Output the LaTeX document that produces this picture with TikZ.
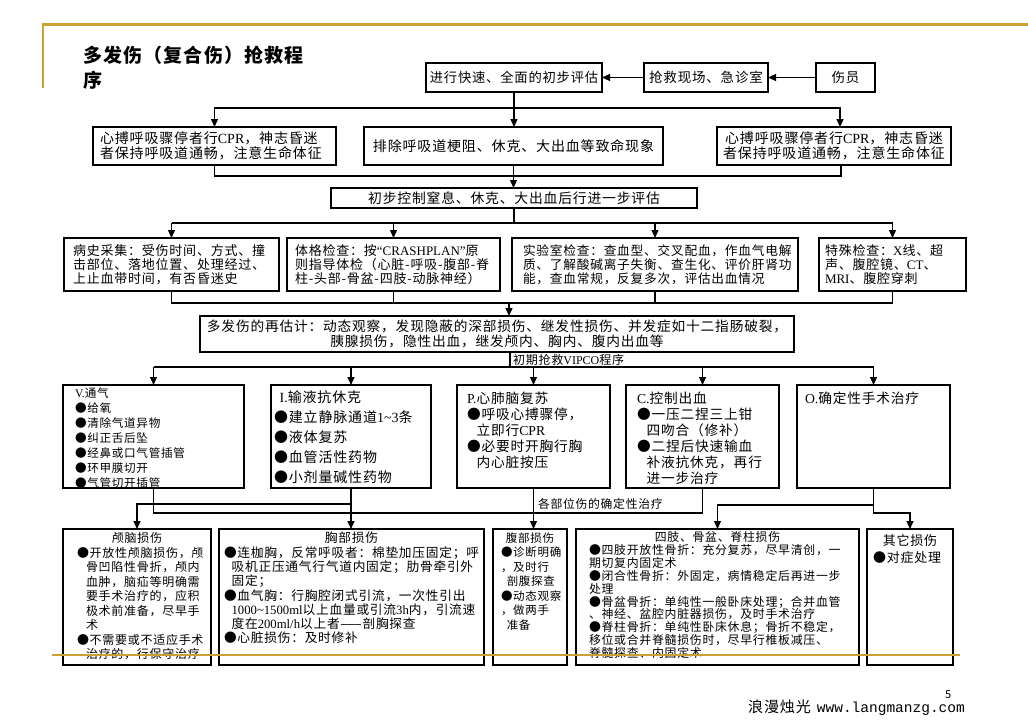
\documentclass[tikz,border=0pt]{standalone}
\usepackage{fontspec}
\setmainfont{Noto Sans CJK SC}[LetterSpace=6]
\setmonofont{Liberation Mono}
\newfontfamily\lat{Liberation Serif}
\usetikzlibrary{arrows.meta,calc}
\definecolor{gold}{RGB}{204,160,50}
\newcommand\fs[2]{\fontsize{#1pt}{#2pt}\selectfont\lineskiplimit=-100pt\relax}
\newcommand\lpad[1]{\raggedright\leftskip=#1pt\relax}
\newcommand\ind[1]{\hspace*{#1em}}
\newcommand\bx[7]{\node[box] (#1) at (#2,#3) {\parbox[c][\dimexpr#5pt-4pt\relax][#6]{\dimexpr#4pt-4pt\relax}{#7}};}
\begin{document}
\begin{tikzpicture}[x=1pt,y=-1pt,
  box/.style={draw,line width=1.2pt,inner sep=2pt,outer sep=0pt,anchor=north west},
  ln/.style={line width=1.2pt},
  arr/.style={line width=1.2pt,-{Triangle[length=8pt,width=7pt]}},
  lbl/.style={inner sep=0pt,anchor=base west},
  goldline/.style={draw=gold,line width=2.2pt}]
\fill[white] (0,0) rectangle (1028,728);
\useasboundingbox (0,0) rectangle (1028,728);

% title
\node[lbl] (title) at (83,62.2) {\fs{19}{25}\bfseries 多发伤（复合伤）抢救程};
\node[lbl] (title2) at (83,87.2) {\fs{19}{25}\bfseries 序};

% row 1
\bx{assess}{426}{63}{176}{29}{c}{\centering\fs{13.3}{15}进行快速、全面的初步评估}
\bx{scene}{644}{63}{124}{29}{c}{\centering\fs{13.5}{15}抢救现场、急诊室}
\bx{injured}{816}{63}{59}{29}{c}{\centering\fs{13.5}{15}伤员}

% row 2
\bx{r2l}{93}{127}{243}{38}{c}{\lpad{5}\fs{14}{15}心搏呼吸骤停者行{\lat CPR}，神志昏迷\par 者保持呼吸道通畅，注意生命体征}
\bx{r2m}{364}{127}{299}{38}{c}{\centering\fs{14}{15}排除呼吸道梗阻、休克、大出血等致命现象}
\bx{r2r}{717}{127}{234}{38}{c}{\centering\fs{14}{15}心搏呼吸骤停者行{\lat CPR}，神志昏迷\par 者保持呼吸道通畅，注意生命体征}

\bx{ctl}{331}{188}{366}{20}{c}{\centering\fs{13.8}{15}初步控制窒息、休克、大出血后行进一步评估}

% row 3
\bx{r3a}{64}{238}{215}{53}{c}{\lpad{7}\fs{13}{14}病史采集：受伤时间、方式、撞\par 击部位、落地位置、处理经过、\par 上止血带时间，有否昏迷史}
\bx{r3b}{287}{238}{213}{53}{c}{\lpad{6}\fs{13}{14}体格检查：按{\lat “CRASHPLAN”}原\par 则指导体检（心脏-呼吸-腹部-脊\par 柱-头部-骨盆-四肢-动脉神经）}
\bx{r3c}{512}{238}{286}{53}{c}{\lpad{9}\fs{12.7}{14}实验室检查：查血型、交叉配血，作血气电解\par 质、了解酸碱离子失衡、查生化、评价肝肾功\par 能，查血常规，反复多次，评估出血情况}
\bx{r3d}{819}{238}{147}{53}{c}{\lpad{4}\fs{13}{14}特殊检查：{\lat X}线、超\par 声、腹腔镜、{\lat CT}、\par {\lat MRI}、腹腔穿刺}

% re-estimation
\bx{re}{200}{316}{594}{36}{c}{\centering\fs{13.7}{15}多发伤的再估计：动态观察，发现隐蔽的深部损伤、继发性损伤、并发症如十二指肠破裂，\par 胰腺损伤，隐性出血，继发颅内、胸内、腹内出血等}
\node[lbl] (vipco) at (513,364.5) {\fs{12}{12}初期抢救{\lat VIPCO}程序};

% VIPCO row
\bx{nV}{63}{385}{181}{103}{t}{\lpad{10}\fs{11.6}{15}\vspace*{10.4pt}\smash{{\lat V.}通气}\par ●给氧\par ●清除气道异物\par ●纠正舌后坠\par ●经鼻或口气管插管\par ●环甲膜切开\par ●气管切开插管}
\bx{nI}{271}{385}{160}{103}{t}{\lpad{1}\fs{14}{20}\vspace*{15.3pt}\smash{\ind{0.4}{\lat I.}输液抗休克}\par ●建立静脉通道{\lat 1\textasciitilde3}条\par ●液体复苏\par ●血管活性药物\par ●小剂量碱性药物}
\bx{nP}{457}{385}{153}{103}{t}{\lpad{8}\fs{13.7}{16}\vspace*{16.2pt}\smash{{\lat P.}心肺脑复苏}\par ●呼吸心搏骤停，\par\ind{0.7}立即行{\lat CPR}\par ●必要时开胸行胸\par\ind{0.7}内心脏按压}
\bx{nC}{626}{385}{153}{103}{t}{\lpad{9}\fs{13.7}{16}\vspace*{16.2pt}\smash{{\lat C.}控制出血}\par ●一压二捏三上钳\par\ind{0.7}四吻合（修补）\par ●二捏后快速输血\par\ind{0.7}补液抗休克，再行\par\ind{0.7}进一步治疗}
\bx{nO}{797}{385}{153}{103}{t}{\lpad{6}\fs{13.7}{16}\vspace*{16.2pt}\smash{{\lat O.}确定性手术治疗}}

\node[lbl] (defin) at (538,508.5) {\fs{11.8}{12}各部位伤的确定性治疗};

% bottom row
\bx{skull}{63}{529}{148}{136}{t}{\fs{12}{14.5}\vspace*{11.6pt}{\centering\smash{颅脑损伤}\par}\lpad{12}●开放性颅脑损伤，颅\par\ind{0.75}骨凹陷性骨折，颅内\par\ind{0.75}血肿，脑疝等明确需\par\ind{0.75}要手术治疗的，应积\par\ind{0.75}极术前准备，尽早手\par\ind{0.75}术\par ●不需要或不适应手术\par\ind{0.75}治疗的，行保守治疗}
\bx{chest}{219}{529}{265}{136}{t}{\fs{12.7}{14.3}\vspace*{11.8pt}{\centering\smash{胸部损伤}\par}\lpad{3}●连枷胸，反常呼吸者：棉垫加压固定；呼\par\ind{0.6}吸机正压通气行气道内固定；肋骨牵引外\par\ind{0.6}固定；\par ●血气胸：行胸腔闭式引流，一次性引出\par\ind{0.6}{\lat 1000\textasciitilde1500ml}以上血量或引流{\lat 3h}内，引流速\par\ind{0.6}度在{\lat 200ml/h}以上者——剖胸探查\par ●心脏损伤：及时修补}
\bx{abd}{493}{529}{74}{136}{t}{\fs{11.5}{14.5}\vspace*{11.4pt}{\centering\smash{腹部损伤}\par}\lpad{6}●诊断明确\par ，及时行\par\ind{0.5}剖腹探查\par ●动态观察\par ，做两手\par\ind{0.5}准备}
\bx{limb}{576}{529}{283}{136}{t}{\fs{11.9}{12.9}\vspace*{10.5pt}{\centering\smash{四肢、骨盆、脊柱损伤}\par}\lpad{11}●四肢开放性骨折：充分复苏，尽早清创，一\par 期切复内固定术\par ●闭合性骨折：外固定，病情稳定后再进一步\par 处理\par ●骨盆骨折：单纯性一般卧床处理；合并血管\par 、神经、盆腔内脏器损伤，及时手术治疗\par ●脊柱骨折：单纯性卧床休息；骨折不稳定，\par 移位或合并脊髓损伤时，尽早行椎板减压、\par 脊髓探查、内固定术}
\bx{other}{867}{529}{86}{136}{t}{\fs{13}{17}\vspace*{14.9pt}{\centering\smash{其它损伤}\par}\lpad{4}●对症处理}

% connectors row 1
\draw[arr] (injured) -- (scene);
\draw[arr] (scene) -- (assess);

% to row 2
\coordinate (j1) at (514,108);
\coordinate (j1r) at (840,108);
\draw[ln] (assess.south) -- (j1);
\draw[arr] (j1) -| (r2l.north);
\draw[arr] (j1) -- (j1r) -- (j1r |- r2r.north);
\draw[arr] (j1) -- (j1 |- r2m.north);

% row 2 to ctl
\coordinate (j2l) at (214.5,176);
\coordinate (j2r) at (841,176);
\draw[ln] (r2l.south) -- (j2l) -- (j2r) -- (j2r |- r2r.south);
\draw[arr] (r2m.south) -- (r2m.south |- ctl.north);

% ctl to row 3
\coordinate (j3) at (514,223);
\draw[ln] (ctl.south) -- (j3);
\draw[ln] (j3 -| r3a.north) -- (j3 -| r3d.north);
\foreach \n in {r3a,r3b,r3c,r3d} \draw[arr] (j3 -| \n.north) -- (\n.north);

% row 3 to re
\coordinate (j4) at (509,303);
\draw[ln] (r3a.south) -- (r3a.south |- j4) -- (r3d.south |- j4) -- (r3d.south);
\draw[ln] (r3b.south) -- (r3b.south |- j4);
\draw[ln] (r3c.south) -- (r3c.south |- j4);
\draw[arr] (j4) -- (j4 |- re.north);

% re to VIPCO
\coordinate (j5) at (510,367);
\draw[ln] (j5 |- re.south) -- (j5);
\draw[ln] (j5 -| nV.north) -- (j5 -| nO.north);
\foreach \n in {nV,nI,nP,nC,nO} \draw[arr] (j5 -| \n.north) -- (\n.north);

% VIPCO to bottom
\draw[arr] (nI.south) -- (nI.south |- chest.north);
\coordinate (k1) at (351,504);
\draw[arr] (k1) -| (skull.north);
\draw[ln] (nV.south) |- ($(nC.south)+(0,25)$) -- (nC.south);
\draw[arr] (nP.south) -- (nP.south |- abd.north);
\draw[arr] (nO.south) |- ($(other.north)+(0,-16)$) -- (other.north);
\coordinate (k4) at ($(nO.south)+(0,17)$);
\draw[arr] (k4) -| (limb.north);

% footer
\node[lbl] (footer) at (748,712) {\fs{15}{15}浪漫烛光\hspace{6pt}{\ttfamily\fontsize{14.5pt}{15pt}\selectfont www.langmanzg.com}};
\node[lbl] (pageno) at (945,698) {\fs{11}{11}5};

% gold frame lines
\draw[goldline] (42,24.5) -- (1028,24.5);
\draw[goldline] (43,24.5) -- (43,88);
\draw[goldline] (52,655) -- (960,655);
\end{tikzpicture}
\end{document}
